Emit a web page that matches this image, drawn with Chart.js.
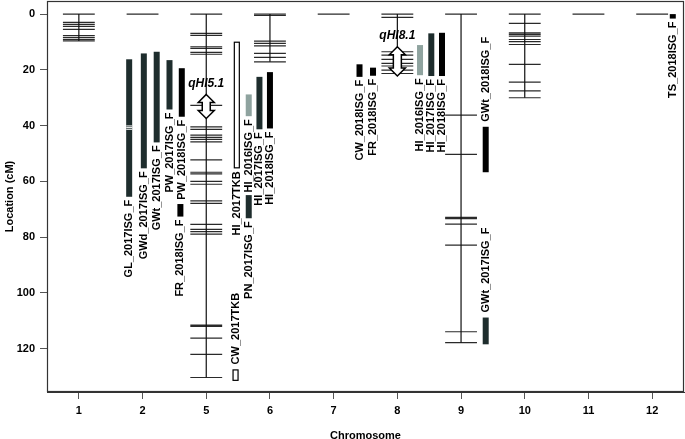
<!DOCTYPE html>
<html>
<head>
<meta charset="utf-8">
<script src="https://cdn.jsdelivr.net/npm/chart.js@4.4.0/dist/chart.umd.min.js"></script>
<style>
html, body { margin: 0; padding: 0; background: #fff; }
#wrap { width: 685px; height: 439px; }
</style>
</head>
<body>
<div id="wrap"><canvas id="map"></canvas></div>
<script>
// chromosomes shown on the map (3 and 4 carry no markers)
var chromosomes = ['1', '2', '5', '6', '7', '8', '9', '10', '11', '12'];
var yTicks = [0, 20, 40, 60, 80, 100, 120];

// marker positions (cM) per chromosome
var markers1 = [0, 3.0, 3.7, 4.4, 5.5, 7.7, 8.4, 9.1, 9.6];
var markers2 = [0];
var markers5 = [0, 6.9, 7.6, 11.7, 12.3, 13.7, 14.4, 32.7, 40.4, 41.3, 43.4, 44.2, 44.9, 45.8,
    52.3, 56.7, 57.3, 60, 61, 67, 67.9, 75.4, 77.2, 78, 78.9, 111.5, 112, 116.2, 122, 130.3];
var markers6 = [0, 0.5, 9.7, 10.5, 11.4, 14.1, 15.5, 17.1];
var markers7 = [0];
var markers8 = [0, 1.2, 13.5, 14.7, 16.2, 17.7, 18.6, 20.1, 21.3];
var markers9 = [0, 36.2, 50.3, 72.9, 73.3, 75.3, 82.8, 113.9, 117.8];
var markers10 = [0, 3.3, 6.7, 7.3, 7.9, 9.1, 9.9, 10.9, 18, 24.4, 27.5, 30];
var markers11 = [0];
var markers12 = [0];
var markerSets = [markers1, markers2, markers5, markers6, markers7, markers8, markers9, markers10, markers11, markers12];

// QTL intervals
var qtlNames = ['GL_2017ISG_F', 'GWd_2017ISG_F', 'GWt_2017ISG_F', 'PW_2017ISG_F', 'PW_2018ISG_F', 'FR_2018ISG_F',
    'HI_2017TKB', 'CW_2017TKB',
    'PN_2017ISG_F', 'HI_2016ISG_F', 'HI_2017ISG_F', 'HI_2018ISG_F',
    'CW_2018ISG_F', 'FR_2018ISG_F', 'HI_2016ISG_F', 'HI_2017ISG_F', 'HI_2018ISG_F',
    'GWt_2018ISG_F', 'GWt_2017ISG_F', 'TS_2018ISG_F'];
var qtlChrom = ['2', '2', '2', '2', '2', '2', '5', '5', '6', '6', '6', '6', '8', '8', '8', '8', '8', '9', '9', '12'];
var qtlStart = [16.2, 14.1, 13.5, 16.5, 19.4, 68.1, 9.9, 127.4, 64.9, 28.8, 22.5, 20.8, 18, 19.2, 11.1, 6.9, 6.7, 40.4, 108.8, 0];
var qtlEnd = [65.5, 55.3, 46, 34.2, 36.8, 72.6, 55.3, 131.5, 73.2, 36.6, 41.3, 41, 22.5, 22.1, 21.9, 22.2, 22.2, 56.7, 118.4, 1.6];
var glInnerMarks = [40.1, 40.7, 41.3];

// major QTL arrows
var peakNames = ['qHI5.1', 'qHI8.1'];
var peakChrom = ['5', '8'];
var peakStart = [28.8, 11.7];
var peakEnd = [37.4, 22.2];

// layout: lane offset of each QTL bar from its chromosome, and label side (1 = above the bar)
var qtlOffset = [-0.21, 0.02, 0.222, 0.423, 0.616, 0.594, 0.48, 0.46, -0.333, -0.333, -0.165, 0,
    -0.594, -0.382, 0.356, 0.533, 0.701, 0.387, 0.387, 0.324];
var qtlLabelUp = [0, 0, 0, 0, 0, 0, 0, 1, 0, 0, 0, 0, 0, 0, 0, 0, 0, 1, 1, 0];
var HALF = 0.25;
var BAR_W = 6;
var FONT = '"Liberation Sans", Arial, sans-serif';

function chrPos(c) { return chromosomes.indexOf(c) + 1; }

var markerData = [], spineData = [];
markerSets.forEach(function (set, i) {
    var k = i + 1;
    set.forEach(function (m) {
        markerData.push({ x: k - HALF, y: m }, { x: k + HALF, y: m }, { x: k, y: null });
    });
    if (set.length > 1) {
        spineData.push({ x: k, y: Math.min.apply(null, set) }, { x: k, y: Math.max.apply(null, set) }, { x: k, y: null });
    }
});

function barStyle(name) {
    if (/TKB/.test(name)) return { fill: '#ffffff', stroke: '#000000' };
    if (/2016/.test(name)) return { fill: '#8fa39f' };
    if (/2017/.test(name)) return { fill: '#1e2d2d' };
    return { fill: '#000000' };
}

var qtlPlugin = {
    id: 'qtl',
    afterDatasetsDraw: function (chart) {
        var ctx = chart.ctx, xs = chart.scales.x, ys = chart.scales.y;
        var a = chart.chartArea;
        ctx.save();
        qtlNames.forEach(function (name, i) {
            var cx = xs.getPixelForValue(chrPos(qtlChrom[i]) + qtlOffset[i]);
            var top = ys.getPixelForValue(qtlStart[i]);
            var bot = ys.getPixelForValue(qtlEnd[i]);
            var st = barStyle(name);
            ctx.fillStyle = st.fill;
            ctx.fillRect(cx - BAR_W / 2, top, BAR_W, bot - top);
            if (st.stroke) {
                ctx.strokeStyle = st.stroke;
                ctx.lineWidth = 1.2;
                ctx.strokeRect(cx - BAR_W / 2 + 0.5, top + 0.5, BAR_W - 1, bot - top - 1);
            }
            if (i === 0) {
                ctx.strokeStyle = '#ffffff';
                ctx.lineWidth = 1;
                glInnerMarks.forEach(function (m) {
                    var y = ys.getPixelForValue(m);
                    ctx.beginPath();
                    ctx.moveTo(cx - BAR_W / 2, y);
                    ctx.lineTo(cx + BAR_W / 2, y);
                    ctx.stroke();
                });
            }
            ctx.save();
            ctx.fillStyle = '#000';
            ctx.font = 'bold 11px ' + FONT;
            ctx.textBaseline = 'middle';
            if (qtlLabelUp[i]) {
                ctx.translate(cx, top - 5);
                ctx.rotate(-Math.PI / 2);
                ctx.textAlign = 'left';
            } else {
                ctx.translate(cx, bot + 3);
                ctx.rotate(-Math.PI / 2);
                ctx.textAlign = 'right';
            }
            ctx.fillText(name, 0, 0);
            ctx.restore();
        });

        peakNames.forEach(function (name, i) {
            var cx = xs.getPixelForValue(chrPos(peakChrom[i]));
            var y1 = ys.getPixelForValue(peakStart[i]);
            var y2 = ys.getPixelForValue(peakEnd[i]);
            var hw = 8, sw = 4, hl = 8;
            ctx.beginPath();
            ctx.moveTo(cx, y1);
            ctx.lineTo(cx + hw, y1 + hl);
            ctx.lineTo(cx + sw, y1 + hl);
            ctx.lineTo(cx + sw, y2 - hl);
            ctx.lineTo(cx + hw, y2 - hl);
            ctx.lineTo(cx, y2);
            ctx.lineTo(cx - hw, y2 - hl);
            ctx.lineTo(cx - sw, y2 - hl);
            ctx.lineTo(cx - sw, y1 + hl);
            ctx.lineTo(cx - hw, y1 + hl);
            ctx.closePath();
            ctx.fillStyle = '#fff';
            ctx.fill();
            ctx.strokeStyle = '#000';
            ctx.lineWidth = 1.5;
            ctx.stroke();
            ctx.fillStyle = '#000';
            ctx.font = 'italic bold 12px ' + FONT;
            ctx.textAlign = 'center';
            ctx.textBaseline = 'bottom';
            ctx.fillText(name, cx, y1 - 5);
        });

        // frame round the plot
        ctx.strokeStyle = '#333';
        ctx.lineWidth = 1.2;
        ctx.strokeRect(a.left + 0.5, a.top + 0.5, a.right - a.left - 1, a.bottom - a.top - 1);
        ctx.restore();
    }
};

var ctx = document.getElementById('map').getContext('2d');

var chart = new Chart(ctx, {
    type: 'line',
    data: {
        datasets: [{
            label: 'spine',
            data: spineData,
            borderColor: '#111',
            borderWidth: 1.2,
            pointRadius: 0,
            spanGaps: false
        }, {
            label: 'markers',
            data: markerData,
            borderColor: '#2a2a2a',
            borderWidth: 1.2,
            pointRadius: 0,
            spanGaps: false
        }]
    },
    options: {
        responsive: true,
        maintainAspectRatio: false,
        animation: false,
        layout: { padding: { top: 1, right: 1, left: 0, bottom: 0 } },
        plugins: { legend: { display: false }, tooltip: { enabled: false } },
        scales: {
            x: {
                type: 'linear',
                min: 0.5,
                max: 10.5,
                afterBuildTicks: function (scale) {
                    scale.ticks = chromosomes.map(function (c, i) { return { value: i + 1 }; });
                },
                afterFit: function (scale) {
                    scale.height = 47;
                    scale.paddingLeft = 0;
                    scale.paddingRight = 0;
                },
                ticks: {
                    callback: function (v) { return chromosomes[v - 1]; },
                    font: { family: FONT, size: 11, weight: 'bold' },
                    color: '#000',
                    padding: 5,
                    maxRotation: 0
                },
                grid: { drawOnChartArea: false, tickLength: 7, color: '#555' },
                border: { color: '#333' },
                title: {
                    display: true,
                    text: 'Chromosome',
                    font: { family: FONT, size: 11, weight: 'bold' },
                    color: '#000',
                    padding: { top: 0, bottom: -4 }
                }
            },
            y: {
                type: 'linear',
                reverse: true,
                min: -4.7,
                max: 135.5,
                afterBuildTicks: function (scale) {
                    scale.ticks = yTicks.map(function (v) { return { value: v }; });
                },
                afterFit: function (scale) {
                    scale.width = 47;
                    scale.paddingTop = 0;
                    scale.paddingBottom = 0;
                },
                ticks: {
                    font: { family: FONT, size: 11, weight: 'bold' },
                    color: '#000',
                    padding: 5
                },
                grid: { drawOnChartArea: false, tickLength: 7, color: '#555' },
                border: { color: '#333' },
                title: {
                    display: true,
                    text: 'Location (cM)',
                    font: { family: FONT, size: 11, weight: 'bold' },
                    color: '#000',
                    padding: { top: 3, bottom: 0 }
                }
            }
        }
    },
    plugins: [qtlPlugin]
});
</script>
</body>
</html>
